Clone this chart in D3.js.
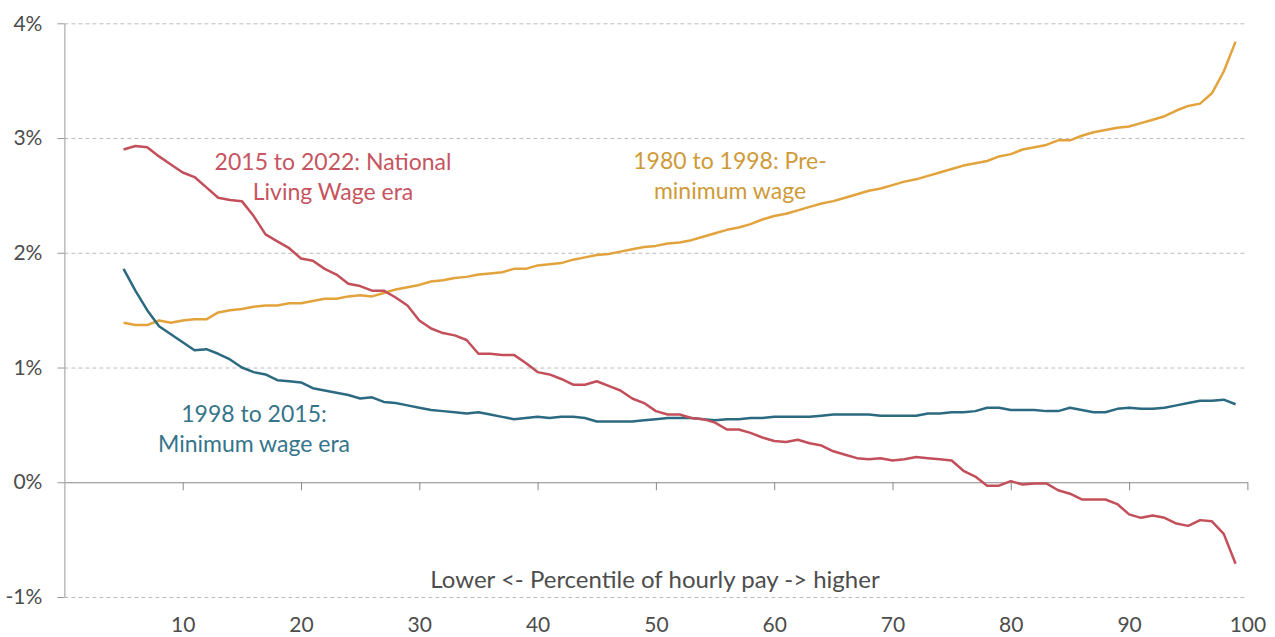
<!DOCTYPE html>
<html>
<head>
  <meta charset="utf-8">
  <script src="https://cdn.jsdelivr.net/npm/d3@7"></script>
  <style>
    body { margin: 0; background: #fff; }
    text { font-family: Lato, "Open Sans", sans-serif; }
    .tick text { fill: #4d4d4d; font-size: 21px; }
    .grid line { stroke: #bdbdbd; stroke-dasharray: 4,3; }
    .grid path { display: none; }
    .line { fill: none; stroke-width: 2.5; stroke-linejoin: round; }
    .note { font-size: 23px; text-anchor: middle; }
  </style>
</head>
<body>
<svg id="chart"></svg>
<script>
// percentile of hourly pay
var percentiles = [5,6,7,8,9,10,11,12,13,14,15,16,17,18,19,20,21,22,23,24,25,26,27,28,29,30,
  31,32,33,34,35,36,37,38,39,40,41,42,43,44,45,46,47,48,49,50,51,52,53,54,55,56,57,58,59,60,
  61,62,63,64,65,66,67,68,69,70,71,72,73,74,75,76,77,78,79,80,81,82,83,84,85,86,87,88,89,90,
  91,92,93,94,95,96,97,98,99];

// annual growth, %
var preMinWage = [1.39,1.37,1.37,1.41,1.39,1.41,1.42,1.42,1.48,1.50,1.51,1.53,1.54,1.54,1.56,1.56,
  1.58,1.60,1.60,1.62,1.63,1.62,1.65,1.68,1.70,1.72,1.75,1.76,1.78,1.79,1.81,1.82,1.83,1.86,1.86,
  1.89,1.90,1.91,1.94,1.96,1.98,1.99,2.01,2.03,2.05,2.06,2.08,2.09,2.11,2.14,2.17,2.20,2.22,2.25,
  2.29,2.32,2.34,2.37,2.40,2.43,2.45,2.48,2.51,2.54,2.56,2.59,2.62,2.64,2.67,2.70,2.73,2.76,2.78,
  2.80,2.84,2.86,2.90,2.92,2.94,2.98,2.98,3.02,3.05,3.07,3.09,3.10,3.13,3.16,3.19,3.24,3.28,3.30,
  3.39,3.58,3.84];

var minWage = [1.86,1.67,1.50,1.36,1.29,1.22,1.15,1.16,1.12,1.07,1.00,0.96,0.94,0.89,0.88,0.87,
  0.82,0.80,0.78,0.76,0.73,0.74,0.70,0.69,0.67,0.65,0.63,0.62,0.61,0.60,0.61,0.59,0.57,0.55,0.56,
  0.57,0.56,0.57,0.57,0.56,0.53,0.53,0.53,0.53,0.54,0.55,0.56,0.56,0.56,0.55,0.54,0.55,0.55,0.56,
  0.56,0.57,0.57,0.57,0.57,0.58,0.59,0.59,0.59,0.59,0.58,0.58,0.58,0.58,0.60,0.60,0.61,0.61,0.62,
  0.65,0.65,0.63,0.63,0.63,0.62,0.62,0.65,0.63,0.61,0.61,0.64,0.65,0.64,0.64,0.65,0.67,0.69,0.71,
  0.71,0.72,0.68];

var livingWage = [2.90,2.93,2.92,2.84,2.77,2.70,2.66,2.57,2.48,2.46,2.45,2.32,2.16,2.10,2.04,1.95,
  1.93,1.86,1.81,1.73,1.71,1.67,1.67,1.61,1.54,1.41,1.34,1.30,1.28,1.24,1.12,1.12,1.11,1.11,1.04,
  0.96,0.94,0.90,0.85,0.85,0.88,0.84,0.80,0.73,0.69,0.62,0.59,0.59,0.56,0.55,0.52,0.46,0.46,0.43,
  0.39,0.36,0.35,0.37,0.34,0.32,0.27,0.24,0.21,0.20,0.21,0.19,0.20,0.22,0.21,0.20,0.19,0.10,0.05,
  -0.03,-0.03,0.01,-0.02,-0.01,-0.01,-0.07,-0.10,-0.15,-0.15,-0.15,-0.19,-0.28,-0.31,-0.29,-0.31,
  -0.36,-0.38,-0.33,-0.34,-0.45,-0.71];

var xTicks = [10,20,30,40,50,60,70,80,90,100];
var yTicks = [-1,0,1,2,3,4];

var width = 1275, height = 637;

var svg = d3.select('#chart')
  .attr('width', width)
  .attr('height', height);

var x = d3.scaleLinear().domain([0, 100]).range([64.4, 1247.4]);
var y = d3.scaleLinear().domain([-1, 4]).range([597, 23.3]);

// dashed gridlines
svg.append('g')
  .attr('class', 'grid')
  .attr('transform', 'translate(' + x(0) + ',0)')
  .call(d3.axisLeft(y).tickValues(yTicks.filter(d => d != 0))
    .tickSize(-(x(100) - x(0))).tickFormat(''));

// y axis
var yAxis = svg.append('g')
  .attr('transform', 'translate(' + x(0) + ',0)')
  .call(d3.axisLeft(y).tickValues(yTicks).tickSize(7).tickSizeOuter(0)
    .tickPadding(15).tickFormat(d => d + '%'));
yAxis.select('.domain').attr('stroke', '#999');
yAxis.selectAll('.tick line').attr('stroke', '#999');

// zero line with ticks
var zeroAxis = svg.append('g')
  .attr('transform', 'translate(0,' + y(0) + ')')
  .call(d3.axisBottom(x).tickValues(xTicks).tickSize(8).tickSizeOuter(0).tickFormat(''));
zeroAxis.select('.domain').attr('stroke', '#888');
zeroAxis.selectAll('.tick line').attr('stroke', '#888');

// x tick labels at the bottom
var xLabels = svg.append('g')
  .attr('transform', 'translate(0,' + y(-1) + ')')
  .call(d3.axisBottom(x).tickValues(xTicks).tickSize(0).tickPadding(20));
xLabels.select('.domain').remove();

svg.append('text')
  .attr('x', 655)
  .attr('y', 588)
  .attr('text-anchor', 'middle')
  .style('font-size', '24px')
  .style('fill', '#4d4d4d')
  .text('Lower <- Percentile of hourly pay -> higher');

var line = d3.line()
  .x((d, i) => x(percentiles[i]))
  .y(d => y(d));

var series = [
  { values: preMinWage, color: '#e2a33c' },
  { values: minWage, color: '#2b6a80' },
  { values: livingWage, color: '#c24f5a' }
];

svg.selectAll('.line')
  .data(series)
  .enter()
  .append('path')
  .attr('class', 'line')
  .attr('stroke', d => d.color)
  .attr('d', d => line(d.values));

// annotations
var notes = [
  { x: 333, y: 170, color: '#c65561', lines: ['2015 to 2022: National', 'Living Wage era'] },
  { x: 730, y: 169, color: '#cf9a38', lines: ['1980 to 1998: Pre-', 'minimum wage'] },
  { x: 254, y: 422, color: '#35748a', lines: ['1998 to 2015:', 'Minimum wage era'] }
];

notes.forEach(n => {
  var t = svg.append('text')
    .attr('class', 'note')
    .attr('fill', n.color);
  n.lines.forEach((s, i) => {
    t.append('tspan')
      .attr('x', n.x)
      .attr('y', n.y + i * 30)
      .text(s);
  });
});
</script>
</body>
</html>
